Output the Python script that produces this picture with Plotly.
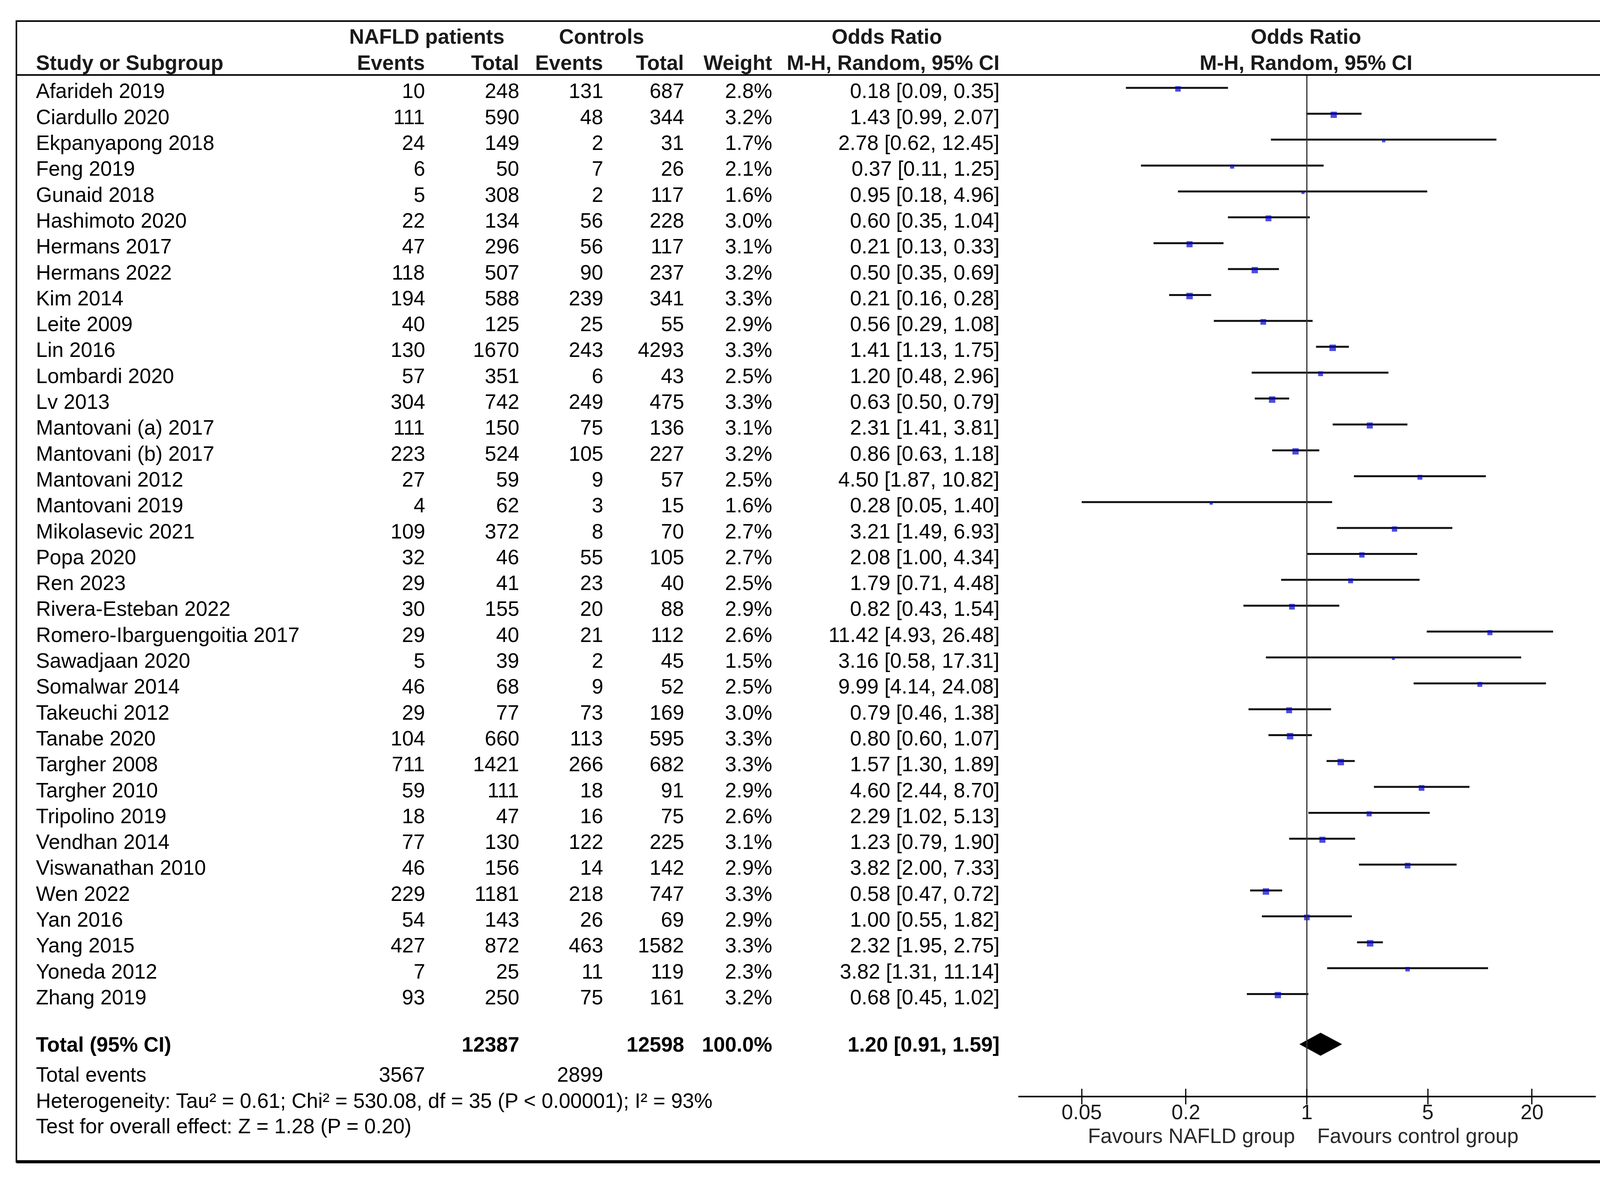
import plotly.graph_objects as go

W, H = 4174, 3014

# ---------------- data ----------------
studies = [
    "Afarideh 2019", "Ciardullo 2020", "Ekpanyapong 2018", "Feng 2019", "Gunaid 2018",
    "Hashimoto 2020", "Hermans 2017", "Hermans 2022", "Kim 2014", "Leite 2009",
    "Lin 2016", "Lombardi 2020", "Lv 2013", "Mantovani (a) 2017", "Mantovani (b) 2017",
    "Mantovani 2012", "Mantovani 2019", "Mikolasevic 2021", "Popa 2020", "Ren 2023",
    "Rivera-Esteban 2022", "Romero-Ibarguengoitia 2017", "Sawadjaan 2020", "Somalwar 2014",
    "Takeuchi 2012", "Tanabe 2020", "Targher 2008", "Targher 2010", "Tripolino 2019",
    "Vendhan 2014", "Viswanathan 2010", "Wen 2022", "Yan 2016", "Yang 2015",
    "Yoneda 2012", "Zhang 2019",
]
nafld_events = [10, 111, 24, 6, 5, 22, 47, 118, 194, 40, 130, 57, 304, 111, 223, 27, 4, 109,
                32, 29, 30, 29, 5, 46, 29, 104, 711, 59, 18, 77, 46, 229, 54, 427, 7, 93]
nafld_total = [248, 590, 149, 50, 308, 134, 296, 507, 588, 125, 1670, 351, 742, 150, 524, 59,
               62, 372, 46, 41, 155, 40, 39, 68, 77, 660, 1421, 111, 47, 130, 156, 1181, 143,
               872, 25, 250]
ctrl_events = [131, 48, 2, 7, 2, 56, 56, 90, 239, 25, 243, 6, 249, 75, 105, 9, 3, 8, 55, 23,
               20, 21, 2, 9, 73, 113, 266, 18, 16, 122, 14, 218, 26, 463, 11, 75]
ctrl_total = [687, 344, 31, 26, 117, 228, 117, 237, 341, 55, 4293, 43, 475, 136, 227, 57, 15,
              70, 105, 40, 88, 112, 45, 52, 169, 595, 682, 91, 75, 225, 142, 747, 69, 1582,
              119, 161]
weights = [2.8, 3.2, 1.7, 2.1, 1.6, 3.0, 3.1, 3.2, 3.3, 2.9, 3.3, 2.5, 3.3, 3.1, 3.2, 2.5,
           1.6, 2.7, 2.7, 2.5, 2.9, 2.6, 1.5, 2.5, 3.0, 3.3, 3.3, 2.9, 2.6, 3.1, 2.9, 3.3,
           2.9, 3.3, 2.3, 3.2]
odds_ratio = [0.18, 1.43, 2.78, 0.37, 0.95, 0.60, 0.21, 0.50, 0.21, 0.56, 1.41, 1.20, 0.63,
              2.31, 0.86, 4.50, 0.28, 3.21, 2.08, 1.79, 0.82, 11.42, 3.16, 9.99, 0.79, 0.80,
              1.57, 4.60, 2.29, 1.23, 3.82, 0.58, 1.00, 2.32, 3.82, 0.68]
ci_low = [0.09, 0.99, 0.62, 0.11, 0.18, 0.35, 0.13, 0.35, 0.16, 0.29, 1.13, 0.48, 0.50, 1.41,
          0.63, 1.87, 0.05, 1.49, 1.00, 0.71, 0.43, 4.93, 0.58, 4.14, 0.46, 0.60, 1.30, 2.44,
          1.02, 0.79, 2.00, 0.47, 0.55, 1.95, 1.31, 0.45]
ci_high = [0.35, 2.07, 12.45, 1.25, 4.96, 1.04, 0.33, 0.69, 0.28, 1.08, 1.75, 2.96, 0.79,
           3.81, 1.18, 10.82, 1.40, 6.93, 4.34, 4.48, 1.54, 26.48, 17.31, 24.08, 1.38, 1.07,
           1.89, 8.70, 5.13, 1.90, 7.33, 0.72, 1.82, 2.75, 11.14, 1.02]

total_nafld = 12387
total_ctrl = 12598
total_weight = 100.0
pooled_or, pooled_lo, pooled_hi = 1.20, 0.91, 1.59
events_nafld_sum = 3567
events_ctrl_sum = 2899
heterogeneity_text = "Heterogeneity: Tau² = 0.61; Chi² = 530.08, df = 35 (P < 0.00001); I² = 93%"
overall_text = "Test for overall effect: Z = 1.28 (P = 0.20)"
tick_vals = [0.05, 0.2, 1, 5, 20]
tick_text = ["0.05", "0.2", "1", "5", "20"]
favours_left = "Favours NAFLD group"
favours_right = "Favours control group"

# ---------------- layout constants ----------------
FONT = "Liberation Sans, Arial, Helvetica, sans-serif"
FS = 53
Y0 = 225.0      # pixel of first study row (CI line)
DY = 66.3       # row pitch in pixels
TXT_OFF = 0.12  # text sits slightly below CI line


def row(py):
    return (py - Y0) / DY


C_STUDY = 90
C_EV1, C_TOT1, C_EV2, C_TOT2, C_WT, C_CI = 1090, 1331, 1546, 1753, 1979, 2561
X_FOREST_C = 3343
AXIS_PY = 2808

ann = []


def txt(xp, yr, s, anchor="right", bold=False, color="#000000", size=FS):
    ann.append(dict(
        x=xp / W, xref="paper", y=yr, yref="y",
        text=f"<b>{s}</b>" if bold else s, showarrow=False,
        xanchor=anchor, yanchor="middle",
        font=dict(family=FONT, size=size, color=color),
    ))


HC = "#1a1a1a"
yh1, yh2 = row(93), row(160)
txt(1093, yh1, "NAFLD patients", "center", True, HC)
txt(1540, yh1, "Controls", "center", True, HC)
txt(2270, yh1, "Odds Ratio", "center", True, HC)
txt(X_FOREST_C, yh1, "Odds Ratio", "center", True, HC)
txt(C_STUDY, yh2, "Study or Subgroup", "left", True, HC)
txt(C_EV1, yh2, "Events", "right", True, HC)
txt(C_TOT1, yh2, "Total", "right", True, HC)
txt(C_EV2, yh2, "Events", "right", True, HC)
txt(C_TOT2, yh2, "Total", "right", True, HC)
txt(C_WT, yh2, "Weight", "right", True, HC)
txt(C_CI, yh2, "M-H, Random, 95% CI", "right", True, HC)
txt(X_FOREST_C, yh2, "M-H, Random, 95% CI", "center", True, HC)

for i, s in enumerate(studies):
    yr = i + TXT_OFF
    txt(C_STUDY, yr, s, "left")
    txt(C_EV1, yr, str(nafld_events[i]))
    txt(C_TOT1, yr, str(nafld_total[i]))
    txt(C_EV2, yr, str(ctrl_events[i]))
    txt(C_TOT2, yr, str(ctrl_total[i]))
    txt(C_WT, yr, f"{weights[i]:.1f}%")
    txt(C_CI, yr, f"{odds_ratio[i]:.2f} [{ci_low[i]:.2f}, {ci_high[i]:.2f}]")

y_tot = row(2674)
txt(C_STUDY, y_tot, "Total (95% CI)", "left", True)
txt(C_TOT1, y_tot, str(total_nafld), bold=True)
txt(C_TOT2, y_tot, str(total_ctrl), bold=True)
txt(C_WT, y_tot, f"{total_weight:.1f}%", bold=True)
txt(C_CI, y_tot, f"{pooled_or:.2f} [{pooled_lo:.2f}, {pooled_hi:.2f}]", bold=True)
y_ev = row(2751)
txt(C_STUDY, y_ev, "Total events", "left")
txt(C_EV1, y_ev, str(events_nafld_sum))
txt(C_EV2, y_ev, str(events_ctrl_sum))
txt(C_STUDY, row(2818), heterogeneity_text, "left")
txt(C_STUDY, row(2883), overall_text, "left")

y_fav = row(2908)
txt(3317, y_fav, favours_left, "right", color="#2a2a2a")
txt(3370, y_fav, favours_right, "left", color="#2a2a2a")

fig = go.Figure()

# null line (on the overlay axis so that axis is drawn)
fig.add_trace(go.Scatter(x=[1, 1], y=[row(192), row(AXIS_PY)], mode="lines",
                         xaxis="x2", yaxis="y",
                         line=dict(color="#333333", width=3), hoverinfo="skip"))

cx, cy = [], []
for i in range(len(studies)):
    cx += [ci_low[i], ci_high[i], None]
    cy += [i, i, None]
fig.add_trace(go.Scatter(x=cx, y=cy, mode="lines", line=dict(color="#111111", width=5),
                         hoverinfo="skip"))

fig.add_trace(go.Scatter(
    x=odds_ratio, y=[i + 0.04 for i in range(len(studies))], mode="markers",
    marker=dict(symbol="square", size=[5.0 * w for w in weights], color="#0000CC",
                line=dict(width=0)),
    hoverinfo="skip"))

hh = 29 / DY
fig.add_trace(go.Scatter(
    x=[pooled_lo, pooled_or, pooled_hi, pooled_or, pooled_lo],
    y=[y_tot, y_tot - hh, y_tot, y_tot + hh, y_tot],
    mode="lines", fill="toself", fillcolor="black", line=dict(color="black", width=1),
    hoverinfo="skip"))

FL, FR, FT, FB = 42, 4133, 54, 2975
shapes = [
    dict(type="rect", xref="paper", yref="paper", x0=FL / W, x1=FR / W,
         y0=1 - FB / H, y1=1 - FT / H, line=dict(color="black", width=4)),
    dict(type="line", xref="paper", yref="paper", x0=FR / W, x1=FR / W,
         y0=1 - (FB + 3) / H, y1=1 - FT / H, line=dict(color="black", width=8)),
    dict(type="line", xref="paper", yref="paper", x0=FL / W, x1=(FR + 3) / W,
         y0=1 - FB / H, y1=1 - FB / H, line=dict(color="black", width=8)),
    dict(type="line", xref="paper", yref="paper", x0=FL / W, x1=FR / W,
         y0=1 - 192 / H, y1=1 - 192 / H, line=dict(color="black", width=4)),
]

XDOM = [2607 / W, 4085 / W]
XRNG = [-1.667, 1.669]
fig.update_layout(
    width=W, height=H, margin=dict(l=0, r=0, t=0, b=0),
    paper_bgcolor="white", plot_bgcolor="rgba(0,0,0,0)", showlegend=False,
    xaxis=dict(type="log", domain=XDOM, range=XRNG,
               anchor="free", position=1 - AXIS_PY / H,
               showline=True, linecolor="black", linewidth=4,
               ticks="inside", ticklen=18, tickwidth=3, tickcolor="black",
               tickvals=tick_vals, ticktext=tick_text, ticklabelstandoff=-8,
               showgrid=False, zeroline=False,
               tickfont=dict(family=FONT, size=FS, color="#1a1a1a")),
    xaxis2=dict(type="log", domain=XDOM, range=XRNG, overlaying="x",
                anchor="free", position=1 - AXIS_PY / H,
                showline=False, ticks="outside", ticklen=19, tickwidth=3,
                tickcolor="black", tickvals=tick_vals, showticklabels=False,
                showgrid=False, zeroline=False),
    yaxis=dict(domain=[0, 1], range=[row(H), row(0)], visible=False),
    annotations=ann, shapes=shapes,
)

fig.write_html(
    "out.html",
    config={"displayModeBar": False},
    post_script="document.body.style.margin='0px';document.body.style.overflow='hidden';",
)
